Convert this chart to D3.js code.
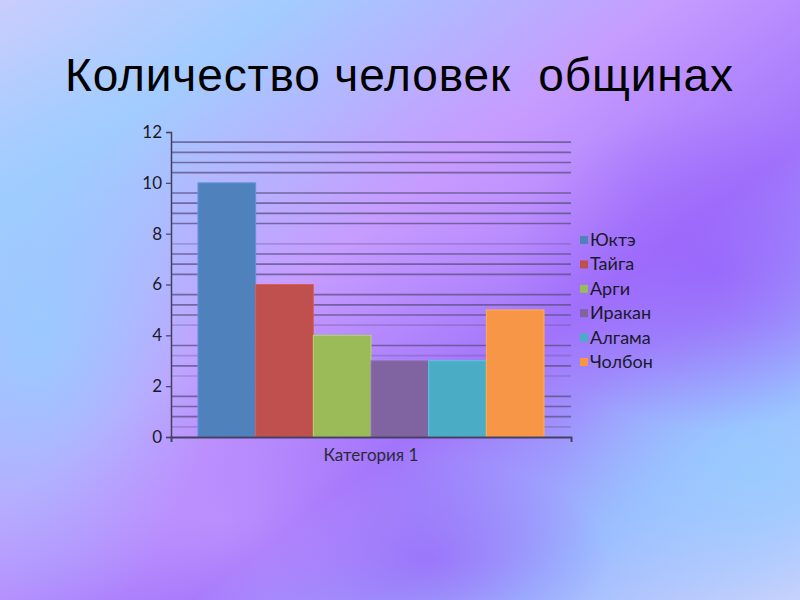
<!DOCTYPE html>
<html><head><meta charset="utf-8">
<script src="https://cdn.jsdelivr.net/npm/d3@7"></script>
<style>html,body{margin:0;padding:0;overflow:hidden;}</style>
</head><body>
<svg id="c" width="800" height="600"></svg>
<script>
const title = "Количество человек  общинах";
const categories = ["Категория 1"];
const seriesNames = ["Юктэ", "Тайга", "Арги", "Иракан", "Алгама", "Чолбон"];
const seriesValues = [10, 6, 4, 3, 3, 5];
const seriesColors = ["#4F81BD", "#C0504D", "#9BBB59", "#8064A2", "#4BACC6", "#F79646"];
const yTicks = [0, 2, 4, 6, 8, 10, 12];

(function(){
const svg = d3.select("#c");
const defs = svg.append("defs");

// background
const lg = defs.append("linearGradient").attr("id","bg").attr("x1","0").attr("y1","0").attr("x2","1").attr("y2","1");
[["0%","#c9cdfd"],["18%","#a3ccff"],["42%","#c69cff"],["62%","#a274fb"],["82%","#9bbcff"],["100%","#cdd2fc"]]
  .forEach(([o,c])=>lg.append("stop").attr("offset",o).attr("stop-color",c));
svg.append("rect").attr("width",800).attr("height",600).attr("fill","url(#bg)");
function blob(id, cx, cy, rx, ry, color, op){
  const rg = defs.append("radialGradient").attr("id",id);
  rg.append("stop").attr("offset","0%").attr("stop-color",color).attr("stop-opacity",op);
  rg.append("stop").attr("offset","100%").attr("stop-color",color).attr("stop-opacity",0);
  svg.append("ellipse").attr("cx",cx).attr("cy",cy).attr("rx",rx).attr("ry",ry).attr("fill",`url(#${id})`);
}
blob("b1", 40, 330, 180, 300, "#98ccff", 0.9);
blob("b2", 760, 470, 200, 150, "#98ccff", 0.85);
blob("b3", 710, 270, 200, 160, "#9860fb", 0.75);
blob("b4", 430, 560, 180, 100, "#9a62f8", 0.65);
blob("b5", 220, 520, 200, 120, "#c99cff", 0.55);
blob("b6", 480, 180, 160, 120, "#c896ff", 0.4);

// title
svg.append("text").attr("x",65).attr("y",91)
  .attr("font-family","Liberation Sans, Arial, sans-serif").attr("font-size",46)
  .attr("textLength",668).attr("lengthAdjust","spacing")
  .attr("fill","#000").style("white-space","pre").text(title);

// chart
const pL = 171, pR = 571, pT = 132, pB = 437;
const y = d3.scaleLinear().domain([0,12]).range([pB, pT]);
const x0 = d3.scaleBand().domain(categories).range([pL,pR]).paddingInner(0).paddingOuter(0.078);
const x1 = d3.scaleBand().domain(seriesNames).range([0, x0.bandwidth()]).padding(0);

// minor gridlines
const minor = d3.range(1,30).map(i=>i*0.4).filter(v=>Math.abs(v/2-Math.round(v/2))>0.01);
const faint = [7.6, 2.4, 0.4, 3.2, 4.4];
svg.append("g").selectAll("line").data(minor).join("line")
  .attr("x1",pL).attr("x2",pR)
  .attr("y1",d=>y(d)).attr("y2",d=>y(d))
  .attr("stroke","#5c4f80")
  .attr("stroke-opacity",d=>faint.some(f=>Math.abs(f-d)<0.01)?0.3:0.75)
  .attr("stroke-width",1.6);

// bars
const g = svg.append("g");
categories.forEach(cat=>{
  g.selectAll("rect").data(seriesValues).join("rect")
    .attr("x",(d,i)=>x0(cat)+x1(seriesNames[i]))
    .attr("y",d=>y(d))
    .attr("width",x1.bandwidth())
    .attr("height",d=>pB-y(d))
    .attr("fill",(d,i)=>seriesColors[i])
    .attr("stroke",(d,i)=>d3.color(seriesColors[i]).brighter(0.4))
    .attr("stroke-width",1);
});

const lblFont = "Lato, Open Sans, sans-serif";
// y axis
const yAxis = d3.axisLeft(y).tickValues(yTicks).tickSize(5).tickPadding(4).tickFormat(d3.format("d"));
const ya = svg.append("g").attr("transform",`translate(${pL},0)`).call(yAxis);
ya.select(".domain").attr("stroke","#454060").attr("stroke-width",1.5);
ya.selectAll(".tick line").attr("stroke","#454060").attr("stroke-width",1.2);
ya.selectAll(".tick text").attr("font-family",lblFont).attr("font-size",17).attr("fill","#1a1a2a");

// x axis
const xAxis = d3.axisBottom(d3.scaleLinear().domain([0,1]).range([pL,pR])).tickValues([0,1]).tickSize(5).tickFormat("");
const xa = svg.append("g").attr("transform",`translate(0,${pB})`).call(xAxis);
xa.select(".domain").attr("stroke","#454060").attr("stroke-width",1.8);
xa.selectAll(".tick line").attr("stroke","#454060").attr("stroke-width",1.2);
svg.append("text").attr("x",x0(categories[0])+x0.bandwidth()/2).attr("y",461).attr("text-anchor","middle")
  .attr("font-family",lblFont).attr("font-size",17).attr("fill","#2a2a3a").text(categories[0]);

// legend
const leg = svg.append("g").attr("transform","translate(580,240)");
const items = leg.selectAll("g").data(seriesNames).join("g").attr("transform",(d,i)=>`translate(0,${i*24.4})`);
items.append("rect").attr("x",0).attr("y",-4).attr("width",8).attr("height",8).attr("fill",(d,i)=>seriesColors[i]);
items.append("text").attr("x",10).attr("y",6).attr("font-family",lblFont).attr("font-size",18).attr("fill","#1a1a2a").text(d=>d);
})();
</script>
</body></html>
